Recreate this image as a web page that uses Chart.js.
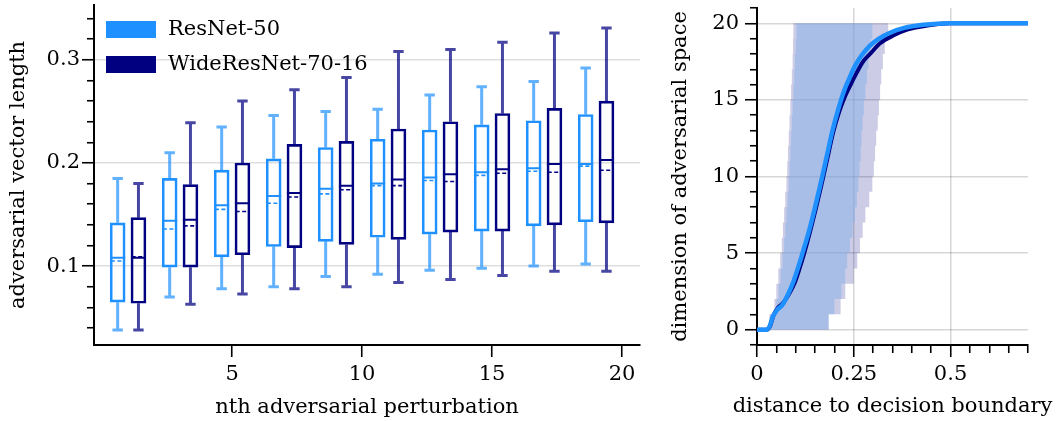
<!DOCTYPE html>
<html>
<head>
<meta charset="utf-8">
<script src="https://cdn.jsdelivr.net/npm/chart.js@4.4.1/dist/chart.umd.min.js"></script>
<style>
  html, body { margin: 0; padding: 0; background: #fff; }
  #wrap { position: relative; width: 1060px; height: 421px; overflow: hidden; }
  .panel { position: absolute; top: 0; height: 421px; }
  #left { left: 0; width: 650px; }
  #right { left: 650px; width: 410px; }
</style>
</head>
<body>
<div id="wrap">
  <div class="panel" id="left"><canvas id="boxChart" width="650" height="421"></canvas></div>
  <div class="panel" id="right"><canvas id="curveChart" width="410" height="421"></canvas></div>
</div>
<script>
// ---- left panel: box plots per nth perturbation ----
const seriesNames = ['ResNet-50', 'WideResNet-70-16'];
const perturbationIndex = [1, 3, 5, 7, 9, 11, 13, 15, 17, 19];

const resnetLow    = [0.038, 0.070, 0.078, 0.080, 0.090, 0.092, 0.096, 0.098, 0.100, 0.102];
const resnetQ1     = [0.065, 0.099, 0.109, 0.119, 0.124, 0.128, 0.131, 0.134, 0.139, 0.143];
const resnetMedian = [0.108, 0.144, 0.159, 0.168, 0.175, 0.180, 0.186, 0.191, 0.195, 0.199];
const resnetMean   = [0.105, 0.136, 0.155, 0.161, 0.170, 0.178, 0.183, 0.188, 0.192, 0.197];
const resnetQ3     = [0.142, 0.185, 0.193, 0.204, 0.215, 0.223, 0.232, 0.237, 0.241, 0.247];
const resnetHigh   = [0.185, 0.210, 0.235, 0.246, 0.250, 0.252, 0.266, 0.274, 0.279, 0.292];

const wrnLow    = [0.038, 0.063, 0.073, 0.078, 0.080, 0.084, 0.087, 0.091, 0.095, 0.095];
const wrnQ1     = [0.064, 0.099, 0.111, 0.118, 0.121, 0.126, 0.133, 0.134, 0.140, 0.142];
const wrnMedian = [0.108, 0.145, 0.161, 0.171, 0.178, 0.184, 0.189, 0.194, 0.199, 0.203];
const wrnMean   = [0.109, 0.139, 0.153, 0.167, 0.174, 0.178, 0.182, 0.190, 0.191, 0.193];
const wrnQ3     = [0.147, 0.179, 0.200, 0.218, 0.221, 0.233, 0.240, 0.248, 0.253, 0.260];
const wrnHigh   = [0.180, 0.239, 0.260, 0.271, 0.283, 0.308, 0.310, 0.317, 0.326, 0.331];

const perturbationTicks = [5, 10, 15, 20];
const lengthMajorTicks = [0.1, 0.2, 0.3];

// ---- right panel: dimension of adversarial space vs distance ----
const resnetDist = [0, 0.025, 0.033, 0.04, 0.052, 0.065, 0.08, 0.095, 0.108, 0.12, 0.135, 0.15, 0.165, 0.18, 0.195, 0.21, 0.225, 0.24, 0.255, 0.27, 0.29, 0.315, 0.345, 0.38, 0.43, 0.5, 0.7];
const resnetDims = [0, 0, 0.25, 0.8, 1.3, 1.6, 2.3, 3.2, 4.2, 5.2, 6.5, 8.0, 9.6, 11.3, 13.0, 14.4, 15.6, 16.5, 17.3, 17.9, 18.5, 19.0, 19.4, 19.7, 19.9, 20, 20];
const wrnDist = [0, 0.025, 0.034, 0.042, 0.053, 0.066, 0.082, 0.098, 0.11, 0.122, 0.137, 0.152, 0.167, 0.182, 0.197, 0.212, 0.227, 0.242, 0.258, 0.274, 0.292, 0.318, 0.352, 0.39, 0.44, 0.5, 0.7];
const wrnDims = [0, 0, 0.25, 0.9, 1.4, 1.7, 2.3, 3.1, 4.0, 5.0, 6.4, 7.9, 9.5, 11.2, 12.9, 14.2, 15.2, 16.0, 16.8, 17.5, 18.0, 18.7, 19.2, 19.6, 19.85, 20, 20];

// spread of distances per dimension k = 1..20 (left / right edge)
const resnetBandLeft  = [0.034, 0.050, 0.056, 0.061, 0.066, 0.070, 0.073, 0.076, 0.079, 0.082, 0.084, 0.086, 0.088, 0.090, 0.092, 0.094, 0.096, 0.098, 0.100, 0.102];
const resnetBandRight = [0.185, 0.200, 0.218, 0.228, 0.233, 0.240, 0.247, 0.253, 0.258, 0.262, 0.265, 0.268, 0.270, 0.273, 0.276, 0.280, 0.284, 0.288, 0.293, 0.298];
const wrnBandLeft  = [0.032, 0.045, 0.050, 0.055, 0.060, 0.064, 0.067, 0.070, 0.073, 0.076, 0.078, 0.080, 0.082, 0.084, 0.086, 0.088, 0.090, 0.092, 0.093, 0.094];
const wrnBandRight = [0.185, 0.216, 0.228, 0.250, 0.259, 0.266, 0.273, 0.280, 0.290, 0.298, 0.302, 0.305, 0.308, 0.312, 0.315, 0.318, 0.321, 0.325, 0.330, 0.339];

const distanceMajorTicks = [0, 0.25, 0.5];
const dimensionMajorTicks = [0, 5, 10, 15, 20];

const colors = { resnet: '#1E90FF', wrn: '#000080' };
const font = { family: "'DejaVu Serif', serif", size: 21 };
const fontCss = "21px 'DejaVu Serif', serif";

function steps(from, to, step) {
  const out = [];
  for (let v = from; v <= to + 1e-9; v += step) out.push(Math.round(v * 1000) / 1000);
  return out;
}
const isIn = (list, v) => list.some(t => Math.abs(t - v) < 1e-6);

// tick marks: long for major, short for minor (dash trick)
function axisStyle(majors, minorOffset, showGrid, gridColor) {
  return {
    offset: false,
    color: c => (showGrid && c.tick && isIn(majors, c.tick.value)) ? gridColor : 'rgba(0,0,0,0)',
    lineWidth: 1.5,
    tickLength: 12,
    tickColor: '#000',
    tickWidth: 1.6,
    tickBorderDash: [12, 100],
    tickBorderDashOffset: c => (c.tick && isIn(majors, c.tick.value)) ? 0 : minorOffset
  };
}

// pin the axis box sizes so the plot areas sit where the reference has them
const fixWidth = w => s => { s.width = w; s.paddingTop = 0; s.paddingBottom = 0; };
const fixHeight = h => s => { s.height = h; };

// ---------- box plot chart ----------
const lineBase = { type: 'line', pointRadius: 0, pointHoverRadius: 0, spanGaps: false, fill: false, borderCapStyle: 'butt' };

function boxDatasets(shift, color, whiskerColor, lo, q1, med, mean, q3, hi) {
  const xs = perturbationIndex.map(p => p + shift);
  const gap = x => ({ x, y: null });
  const hseg = (vals, half) => xs.flatMap((x, i) => [{ x: x - half, y: vals[i] }, { x: x + half, y: vals[i] }, gap(x)]);
  return {
    boxes: {
      type: 'bar', data: xs.map((x, i) => ({ x, y: [q1[i], q3[i]] })),
      barThickness: 15, grouped: false, borderSkipped: false, borderWidth: 2,
      borderColor: color, backgroundColor: 'rgba(255,255,255,0)'
    },
    whiskers: {
      ...lineBase,
      data: xs.flatMap((x, i) => [{ x, y: lo[i] }, { x, y: q1[i] }, gap(x), { x, y: q3[i] }, { x, y: hi[i] }, gap(x)])
        .concat(hseg(lo, 0.2), hseg(hi, 0.2)),
      borderColor: whiskerColor, borderWidth: 3
    },
    medians: { ...lineBase, data: hseg(med, 0.29), borderColor: color, borderWidth: 2 },
    means: { ...lineBase, data: hseg(mean, 0.26), borderColor: color, borderWidth: 1.6, borderDash: [4, 2.5] }
  };
}

const rBox = boxDatasets(-0.4, colors.resnet, 'rgba(30,144,255,0.7)',
  resnetLow, resnetQ1, resnetMedian, resnetMean, resnetQ3, resnetHigh);
const wBox = boxDatasets(0.4, colors.wrn, 'rgba(0,0,128,0.72)',
  wrnLow, wrnQ1, wrnMedian, wrnMean, wrnQ3, wrnHigh);

const boxLegend = {
  id: 'boxLegend',
  afterDraw(chart) {
    const { ctx, chartArea } = chart;
    const swatches = [colors.resnet, colors.wrn];
    ctx.save();
    ctx.font = fontCss;
    ctx.textBaseline = 'middle';
    seriesNames.forEach((name, i) => {
      const y = chartArea.top + 16 + i * 35;
      ctx.fillStyle = swatches[i];
      ctx.fillRect(chartArea.left + 12, y, 50, 17);
      ctx.fillStyle = '#000';
      ctx.fillText(name, chartArea.left + 74, y + 9);
    });
    ctx.restore();
  }
};

new Chart(document.getElementById('boxChart'), {
  type: 'scatter',
  data: {
    datasets: [rBox.medians, rBox.means, wBox.medians, wBox.means, rBox.boxes, wBox.boxes, rBox.whiskers, wBox.whiskers]
  },
  options: {
    responsive: false,
    animation: false,
    events: [],
    layout: { padding: { top: 5, right: 10, left: 0, bottom: 0 } },
    plugins: { legend: { display: false }, tooltip: { enabled: false } },
    scales: {
      x: {
        type: 'linear', min: -0.31, max: 20.69, offset: false,
        afterBuildTicks: s => { s.ticks = perturbationTicks.map(v => ({ value: v })); },
        afterFit: fixHeight(76),
        ticks: { autoSkip: false, maxRotation: 0, padding: 5, color: '#000', font, callback: v => String(v) },
        grid: axisStyle(perturbationTicks, 5, false, '#ddd'),
        border: { color: '#000', width: 2 },
        title: { display: true, text: 'nth adversarial perturbation', color: '#000', font, padding: { top: 0, bottom: 1 } }
      },
      y: {
        type: 'linear', min: 0.0235, max: 0.3532,
        afterBuildTicks: s => { s.ticks = steps(0.04, 0.34, 0.02).map(v => ({ value: v })); },
        afterFit: fixWidth(94),
        ticks: { autoSkip: false, padding: 2, color: '#000', font, callback: v => isIn(lengthMajorTicks, v) ? String(v) : '' },
        grid: axisStyle(lengthMajorTicks, 107, true, 'rgba(0,0,0,0.13)'),
        border: { color: '#000', width: 2 },
        title: { display: true, text: 'adversarial vector length', color: '#000', font, padding: { top: 6, bottom: 0 } }
      }
    }
  },
  plugins: [boxLegend]
});

// ---------- cumulative dimension chart ----------
function bandPolygon(left, right) {
  // stepped outline: right edge upward, then left edge downward
  const pts = right.map((x, k) => ({ x, y: k }));
  pts.push({ x: right[right.length - 1], y: right.length });
  for (let k = left.length - 1; k >= 0; k--) pts.push({ x: left[k], y: k + 1 });
  pts.push({ x: left[0], y: 0 });
  return pts;
}
const bandBase = { type: 'line', pointRadius: 0, pointHoverRadius: 0, borderWidth: 0, borderColor: 'rgba(0,0,0,0)', stepped: 'after', fill: 'shape' };
const curveBase = { type: 'line', pointRadius: 0, pointHoverRadius: 0, fill: false, cubicInterpolationMode: 'monotone', borderCapStyle: 'round', borderJoinStyle: 'round' };

// x title is wider than the plot, so it is drawn without Chart.js' maxWidth squeeze
const wideXTitle = {
  id: 'wideXTitle',
  afterDraw(chart, args, opts) {
    const { ctx, chartArea } = chart;
    ctx.save();
    ctx.font = fontCss;
    ctx.fillStyle = '#000';
    ctx.textAlign = 'center';
    ctx.textBaseline = 'middle';
    ctx.fillText(opts.text, (chartArea.left + chartArea.right) / 2, chart.height - 14);
    ctx.restore();
  }
};

new Chart(document.getElementById('curveChart'), {
  type: 'scatter',
  data: {
    datasets: [
      { ...curveBase, label: seriesNames[0], data: resnetDist.map((x, i) => ({ x, y: resnetDims[i] })), borderColor: colors.resnet, borderWidth: 4.5 },
      { ...curveBase, label: seriesNames[1], data: wrnDist.map((x, i) => ({ x, y: wrnDims[i] })), borderColor: colors.wrn, borderWidth: 4 },
      { ...bandBase, data: bandPolygon(resnetBandLeft, resnetBandRight), backgroundColor: 'rgba(139,179,234,0.55)' },
      { ...bandBase, data: bandPolygon(wrnBandLeft, wrnBandRight), backgroundColor: 'rgba(0,0,128,0.2)' }
    ]
  },
  options: {
    responsive: false,
    animation: false,
    events: [],
    layout: { padding: { top: 8, right: 32, left: 0, bottom: 0 } },
    plugins: {
      legend: { display: false }, tooltip: { enabled: false },
      wideXTitle: { text: 'distance to decision boundary' }
    },
    scales: {
      x: {
        type: 'linear', min: 0, max: 0.7,
        afterBuildTicks: s => { s.ticks = steps(0, 0.7, 0.05).map(v => ({ value: v })); },
        afterFit: fixHeight(76),
        ticks: { autoSkip: false, maxRotation: 0, padding: 5, color: '#000', font, callback: v => isIn(distanceMajorTicks, v) ? String(v) : '' },
        grid: axisStyle(distanceMajorTicks, 5, true, 'rgba(0,0,0,0.16)'),
        border: { color: '#000', width: 2 }
      },
      y: {
        type: 'linear', min: -1, max: 21,
        afterBuildTicks: s => { s.ticks = steps(-1, 21, 1).map(v => ({ value: v })); },
        afterFit: fixWidth(107),
        ticks: { autoSkip: false, padding: 6, color: '#000', font, callback: v => isIn(dimensionMajorTicks, v) ? String(v) : '' },
        grid: axisStyle(dimensionMajorTicks, 107, true, 'rgba(0,0,0,0.16)'),
        border: { color: '#000', width: 2 },
        title: { display: true, text: 'dimension of adversarial space', color: '#000', font, padding: { top: 18, bottom: 0 } }
      }
    }
  },
  plugins: [wideXTitle]
});
</script>
</body>
</html>
